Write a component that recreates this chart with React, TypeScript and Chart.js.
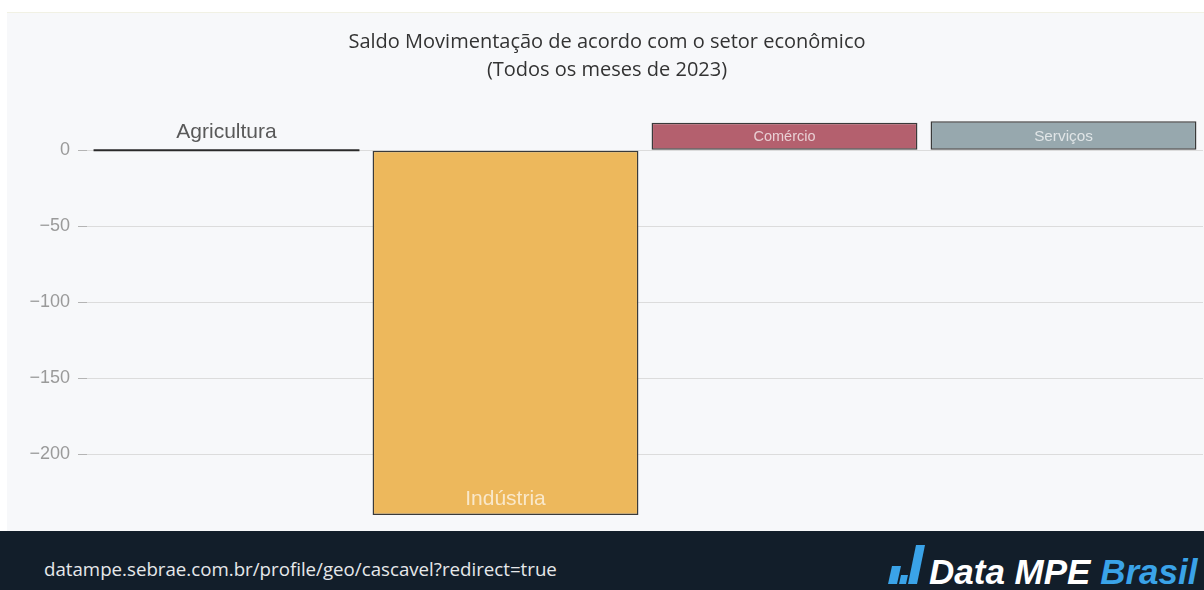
import { useEffect, useRef } from "react";
import { Chart, registerables } from "chart.js";

Chart.register(...registerables);

const categories = ["Agricultura", "Indústria", "Comércio", "Serviços"];
const values = [0, -240, 18, 19];
const barColors = ["#3a3a3a", "#EDB85C", "#B4606E", "#97A8AE"];
const tickValues = [0, -50, -100, -150, -200];
const yMin = -240;
const yMax = 19.2;
const titleLines = [
  "Saldo Movimentação de acordo com o setor econômico",
  "(Todos os meses de 2023)",
];
const footerUrl = "datampe.sebrae.com.br/profile/geo/cascavel?redirect=true";

const LABEL_FONT = "'Liberation Sans', Arial, sans-serif";

const barLabels = {
  id: "barLabels",
  afterDatasetsDraw(chart: any) {
    const ctx = chart.ctx as CanvasRenderingContext2D;
    const meta = chart.getDatasetMeta(0);
    meta.data.forEach((bar: any, i: number) => {
      const { x, y, base, width } = bar.getProps(["x", "y", "base", "width"], true);
      const h = Math.abs(base - y);
      ctx.save();
      ctx.textAlign = "center";
      ctx.textBaseline = "alphabetic";
      if (h < 2) {
        ctx.strokeStyle = "#2a2a2a";
        ctx.lineWidth = 2;
        ctx.beginPath();
        ctx.moveTo(x - width / 2, y);
        ctx.lineTo(x + width / 2, y);
        ctx.stroke();
        ctx.fillStyle = "#595959";
        ctx.font = `21px ${LABEL_FONT}`;
        ctx.fillText(categories[i], x, y - 12);
      } else if (h > 60) {
        ctx.fillStyle = "rgba(255,255,255,0.68)";
        ctx.font = `21px ${LABEL_FONT}`;
        ctx.fillText(categories[i], x, Math.max(y, base) - 10);
      } else {
        // fit text to the bar height, as the original did
        const size = Math.min(16, h * 0.54);
        ctx.fillStyle = "rgba(255,255,255,0.7)";
        ctx.font = `${size}px ${LABEL_FONT}`;
        ctx.fillText(categories[i], x, (y + base) / 2 + size * 0.36);
      }
      ctx.restore();
    });
  },
};

function ChartCanvas() {
  const ref = useRef<HTMLCanvasElement | null>(null);
  useEffect(() => {
    if (!ref.current) return;
    const chart = new Chart(ref.current, {
      type: "bar",
      data: {
        labels: categories,
        datasets: [
          {
            data: values,
            backgroundColor: barColors,
            borderColor: "#3a3a3a",
            borderWidth: 1.5,
            borderSkipped: false,
            barPercentage: 0.953,
            categoryPercentage: 1,
          },
        ],
      },
      options: {
        responsive: false,
        animation: false,
        devicePixelRatio: 1,
        layout: { padding: { top: 109, bottom: 16, left: 0, right: 1 } },
        plugins: {
          legend: { display: false },
          title: { display: false },
          tooltip: { enabled: false },
        },
        scales: {
          x: { display: false },
          y: {
            min: yMin,
            max: yMax,
            afterBuildTicks: (s: any) => {
              s.ticks = tickValues.map((v) => ({ value: v }));
            },
            afterFit: (s: any) => {
              s.width = 80;
              s.paddingTop = 0;
              s.paddingBottom = 0;
            },
            ticks: {
              color: "#9a9a9a",
              font: { size: 18, family: LABEL_FONT },
              padding: 8,
              callback: (v: any) => (Number(v) < 0 ? "\u2212" + Math.abs(Number(v)) : String(v)),
            },
            grid: {
              color: "#dcdcdc",
              tickColor: "#b4b4b4",
              tickLength: 9,
              lineWidth: 1,
            },
            border: { display: false },
          },
        },
      },
      plugins: [barLabels],
    });
    return () => chart.destroy();
  }, []);
  return <canvas ref={ref} width={1197} height={519} style={{ display: "block" }} />;
}

export default function App() {
  return (
    <div
      style={{
        position: "absolute",
        left: 0,
        top: 0,
        width: 1204,
        height: 590,
        background: "#ffffff",
        overflow: "hidden",
      }}
    >
      <div
        style={{
          position: "absolute",
          left: 7,
          top: 12,
          width: 1197,
          height: 519,
          background: "#f7f8fa",
          borderTop: "1px solid #f1f1e4",
          boxSizing: "border-box",
        }}
      />
      <div style={{ position: "absolute", left: 7, top: 12 }}>
        <ChartCanvas />
      </div>
      <div
        style={{
          position: "absolute",
          left: 10,
          top: 26.5,
          width: 1194,
          textAlign: "center",
          fontFamily: "'Open Sans', sans-serif",
          fontSize: 20,
          lineHeight: "28px",
          color: "#333",
        }}
      >
        {titleLines.map((t) => (
          <div key={t}>{t}</div>
        ))}
      </div>
      <div
        style={{
          position: "absolute",
          left: 0,
          top: 531,
          width: 1204,
          height: 59,
          background: "#121e2a",
        }}
      >
        <div
          style={{
            position: "absolute",
            left: 44,
            top: 24.6,
            fontFamily: "'Open Sans', sans-serif",
            fontSize: 18.7,
            lineHeight: "26px",
            color: "#e6e8ea",
            whiteSpace: "nowrap",
          }}
        >
          {footerUrl}
        </div>
        <svg
          style={{ position: "absolute", left: 886, top: 12 }}
          width={44}
          height={44}
          viewBox="0 0 44 44"
        >
          <polygon points="2,41 11,41 15,23 6,23" fill="#3aa3e8" />
          <polygon points="13,41 20,41 22,32 15,32" fill="#3aa3e8" />
          <polygon points="22,41 31,41 39,2 30,2" fill="#3aa3e8" />
        </svg>
        <div
          style={{
            position: "absolute",
            left: 929,
            top: 21,
            fontFamily: "'Liberation Sans', Arial, sans-serif",
            fontWeight: "bold",
            fontStyle: "italic",
            fontSize: 35,
            lineHeight: "40px",
            whiteSpace: "nowrap",
          }}
        >
          <span style={{ color: "#ffffff" }}>Data MPE </span>
          <span style={{ color: "#3aa3e8" }}>Brasil</span>
        </div>
      </div>
    </div>
  );
}
